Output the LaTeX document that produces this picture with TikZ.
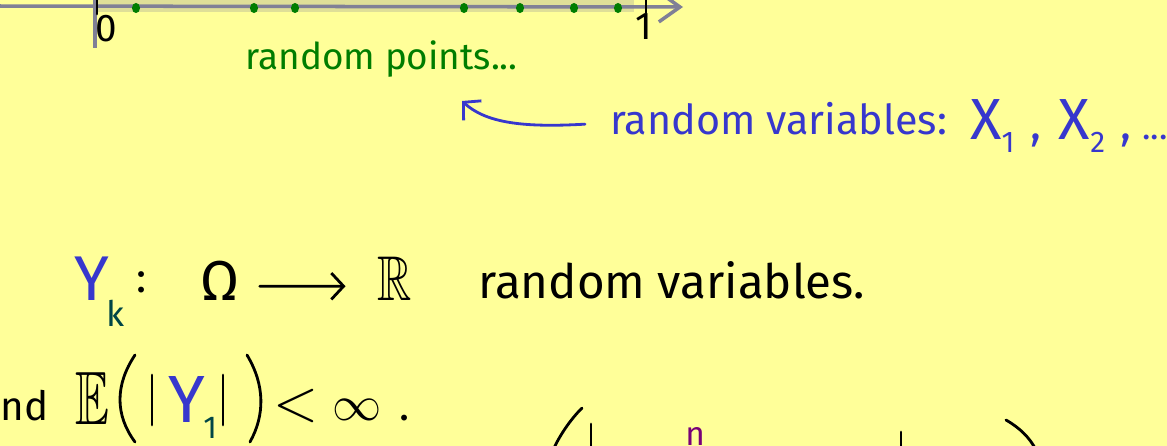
\documentclass[tikz,border=0pt]{standalone}
\usepackage{amssymb}
\usepackage{fontspec}
\setmainfont{Fira Sans}
\usetikzlibrary{arrows.meta, positioning}

\definecolor{notebg}{RGB}{255,255,153}
\definecolor{notegreen}{RGB}{0,125,0}
\definecolor{noteblue}{RGB}{55,55,205}
\definecolor{noteteal}{RGB}{0,70,70}
\definecolor{notepurple}{RGB}{120,0,120}
\definecolor{notegrey}{RGB}{128,128,150}

\newcommand\fsz[1]{\fontsize{#1}{#1}\selectfont}

\begin{document}
\begin{tikzpicture}[
  x=0.02cm, y=-0.02cm,
  ink/.style={line width=1.6pt, line cap=round, line join=round},
  glyph/.style={inner sep=0pt, anchor=base},
  note/.style={inner sep=0pt, anchor=base west},
  dot/.style={fill=notegreen},
  barb/.style={-{Straight Barb[length=7pt, width=15pt]}}
]

% Paper
\fill[notebg] (0,0) rectangle (1167,446);
\useasboundingbox (0,0) rectangle (1167,446);
\clip (0,0) rectangle (1167,446);

% Unit interval with random points
\fill[notegrey!25!notebg] (98,-2) rectangle (634,12);
\coordinate (axisL) at (-5,6);
\coordinate (axisR) at (683,7);
\draw[notegrey, line width=2pt, -{Straight Barb[length=12pt, width=17pt]}] (axisL) -- (axisR);
\draw[notegrey, line width=2pt] (95,0) -- (95,48);
\draw[ink] (97,-2) -- (97,14);
\draw[ink] (646,-2) -- (646,13);
\node[glyph, font=\fsz{22}] (zero) at (106,42) {0};
\node[glyph, font=\fsz{22}] (one) at (644,40) {1};
\foreach \x in {136,254,295,464,520,574,618}
  \fill[dot] (\x,8) ellipse [x radius=2.3pt, y radius=2.9pt];
\node[note, notegreen, font=\fsz{21}] (points) at (245,70) {random points...};

% Blue annotation
\node[note, noteblue, font=\fsz{23.5}] (rvars) at (610,134) {random variables:};
\node[note, noteblue, font=\fsz{33}] (xseq) at (970,140)
  {X\raisebox{-7pt}{\fsz{17}1}\hspace{9pt}{\fsz{26},}\hspace{10pt}X\raisebox{-7pt}{\fsz{17}2}\hspace{9pt}{\fsz{26},}\hspace{6pt}{\fsz{20}...}};
\coordinate (pointsend) at (462,101);
\draw[noteblue, ink, barb] ([shift={(-25,6)}]rvars.west) .. controls (520,128) and (485,122) .. (pointsend);

% Y_k : Omega -> R
\node[note, noteblue, font=\fsz{36}] (yk) at (74,300) {Y};
\node[note, noteteal, font=\fsz{20}] (ksub) at (106,326) {k};
\node[glyph, font=\fsz{24}] (colon) at (142,292) {:};
\node[glyph, font=\fsz{32}] (omega) at (220,300) {Ω};
\node[glyph] (reals) at (395,300) {\scalebox{2.7}[3.6]{$\mathbb{R}$}};
\node[note, font=\fsz{27}] (rvtext) at (478,298) {random variables.};
\draw[ink, barb] ([shift={(20,6)}]omega.east) -- ([shift={(-32,8)}]reals.west);

% E(|Y_1|) < infinity
\node[note, font=\fsz{23}] (andtxt) at (0,420) {nd};
\node[note] (expect) at (75,424) {\scalebox{2.9}[4.3]{$\mathbb{E}$}};
\draw[ink] (135,355) .. controls (115,385) and (115,415) .. (135,442);
\draw[ink] (152,375) -- (152,425);
\node[note, noteblue, font=\fsz{38}] (yone) at (168,422) {Y};
\node[note, noteteal, font=\fsz{18}] (onesub) at (203,438) {1};
\draw[ink] (223,375) -- (223,425);
\draw[ink] (247,355) .. controls (265,385) and (265,415) .. (250,442);
\node[glyph] (less) at (296,420) {\scalebox{3.3}{$<$}};
\node[glyph] (infty) at (357,420) {\scalebox{2.8}{$\infty$}};
\node[glyph, font=\fsz{24}] (period) at (405,420) {.};

% Start of the next line
\draw[ink] (582,408) .. controls (570,420) and (560,435) .. (553,450);
\draw[ink] (591,424) -- (591,450);
\node[note, notepurple, font=\fsz{19}] (nsum) at (685,445) {n};
\draw[ink] (901,432) -- (901,450);
\draw[ink] (1006,420) .. controls (1020,428) and (1030,438) .. (1036,450);

\end{tikzpicture}
\end{document}
